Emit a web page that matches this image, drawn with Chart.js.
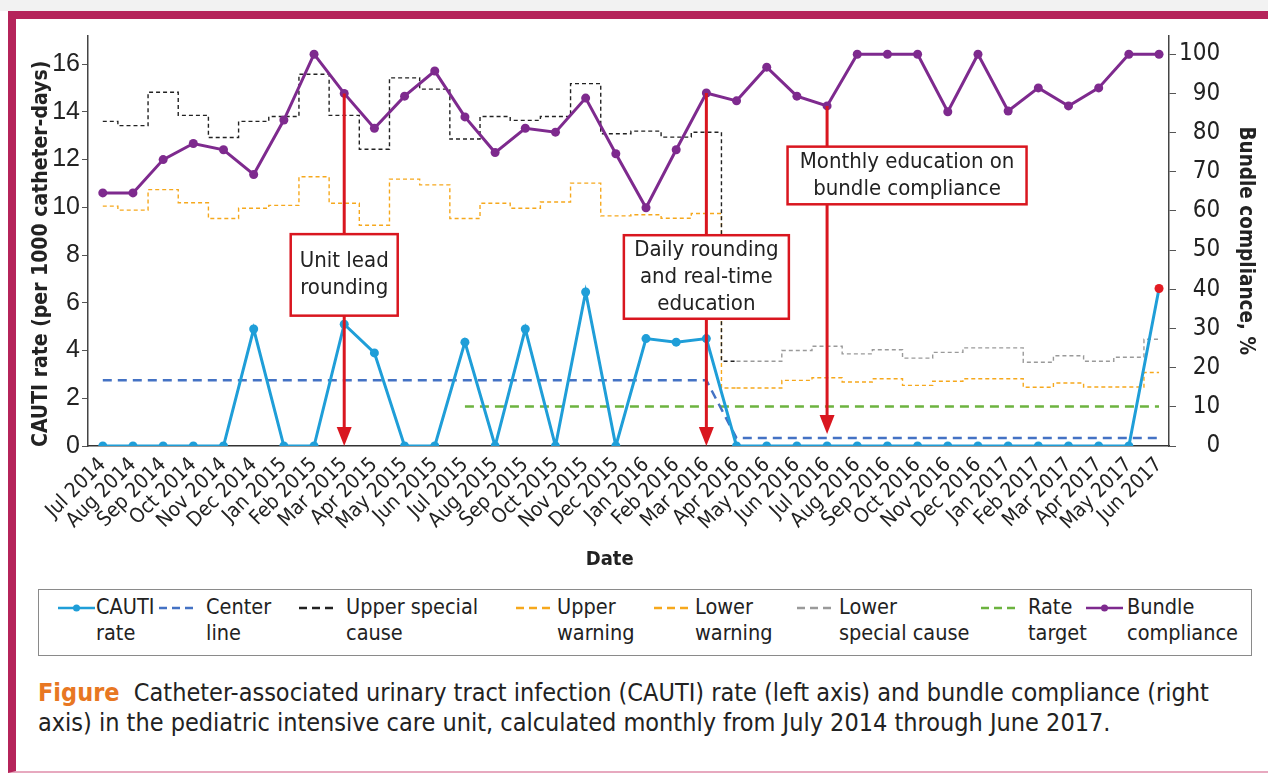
<!DOCTYPE html>
<html>
<head>
<meta charset="utf-8">
<script src="https://cdn.jsdelivr.net/npm/chart.js@4.4.1/dist/chart.umd.min.js"></script>
<style>
  body { margin: 0; width: 1268px; height: 773px; overflow: hidden; background: #fff;
         font-family: "DejaVu Sans Condensed", "Liberation Sans", sans-serif; color: #222; }
  #shade { position: absolute; left: 0; top: 0; width: 1268px; height: 11px; background: #f2f2f2; }
  #frame { position: absolute; left: 8px; top: 11px; width: 1260px; height: 762px; box-sizing: border-box;
           border-top: 8px solid #b5245a; border-left: 8px solid #b5245a; border-bottom: 2px solid #e7a9bf; }
  #wrap { position: absolute; left: 16px; top: 18px; width: 1252px; height: 557px; }
  #legend { position: absolute; left: 38px; top: 589px; width: 1214px; height: 67px; box-sizing: border-box;
            border: 1px solid #8a8a8a; }
  .lab { position: absolute; top: 4px; font-size: 21.5px; line-height: 26px; white-space: nowrap; }
  .sw { position: absolute; top: 9px; }
  #caption { position: absolute; left: 38px; top: 678px; font-size: 25px; line-height: 30px; white-space: nowrap; }
  #caption b { color: #e87722; }
</style>
</head>
<body>
<div id="shade"></div>
<div id="frame"></div>
<div id="wrap"><canvas id="grafico" width="1252" height="557"></canvas></div>
<div id="legend"></div>
<div id="caption"><b>Figure</b>&nbsp; Catheter-associated urinary tract infection (CAUTI) rate (left axis) and bundle compliance (right<br>axis) in the pediatric intensive care unit, calculated monthly from July 2014 through June 2017.</div>
<script>
const months = ["Jul 2014", "Aug 2014", "Sep 2014", "Oct 2014", "Nov 2014", "Dec 2014",
    "Jan 2015", "Feb 2015", "Mar 2015", "Apr 2015", "May 2015", "Jun 2015",
    "Jul 2015", "Aug 2015", "Sep 2015", "Oct 2015", "Nov 2015", "Dec 2015",
    "Jan 2016", "Feb 2016", "Mar 2016", "Apr 2016", "May 2016", "Jun 2016",
    "Jul 2016", "Aug 2016", "Sep 2016", "Oct 2016", "Nov 2016", "Dec 2016",
    "Jan 2017", "Feb 2017", "Mar 2017", "Apr 2017", "May 2017", "Jun 2017"];

// CAUTI rate, per 1000 catheter-days (left axis)
const cautiRate = [0, 0, 0, 0, 0, 4.9, 0, 0, 5.1, 3.9, 0, 0, 4.35, 0, 4.9, 0, 6.45, 0,
    4.5, 4.35, 4.5, 0, 0, 0, 0, 0, 0, 0, 0, 0, 0, 0, 0, 0, 0, 6.6];
const centerLine = [2.75, 2.75, 2.75, 2.75, 2.75, 2.75, 2.75, 2.75, 2.75, 2.75, 2.75, 2.75,
    2.75, 2.75, 2.75, 2.75, 2.75, 2.75, 2.75, 2.75, 2.75,
    0.33, 0.33, 0.33, 0.33, 0.33, 0.33, 0.33, 0.33, 0.33, 0.33, 0.33, 0.33, 0.33, 0.33, 0.33];
const rateTarget = [null, null, null, null, null, null, null, null, null, null, null, null,
    1.65, 1.65, 1.65, 1.65, 1.65, 1.65, 1.65, 1.65, 1.65, 1.65, 1.65, 1.65,
    1.65, 1.65, 1.65, 1.65, 1.65, 1.65, 1.65, 1.65, 1.65, 1.65, 1.65, 1.65];
// fase 1 (Jul 2014 - Mar 2016)
const upperSpecial = [13.6, 13.42, 14.82, 13.85, 12.92, 13.6, 13.8, 15.57, 13.85, 12.43, 15.42,
    14.95, 12.86, 13.8, 13.64, 13.8, 15.18, 13.08, 13.19, 12.94, 13.14];
const upperWarning = [10.05, 9.88, 10.74, 10.19, 9.53, 9.96, 10.08, 11.28, 10.17, 9.25, 11.18,
    10.94, 9.53, 10.17, 9.96, 10.22, 11.01, 9.64, 9.69, 9.54, 9.74];
// fase 2 (Apr 2016 - Jun 2017)
const lowerWarning = [2.43, 2.43, 2.75, 2.86, 2.68, 2.82, 2.54, 2.71, 2.82, 2.82, 2.46, 2.64, 2.47, 2.47, 3.08];
const lowerSpecial = [3.55, 3.55, 4.0, 4.18, 3.86, 4.03, 3.68, 3.92, 4.11, 4.11, 3.51, 3.78, 3.55, 3.72, 4.47];
// Bundle compliance, % (right axis)
const bundle = [64.6, 64.6, 73.1, 77.2, 75.6, 69.3, 83.2, 100, 90, 81.1, 89.3, 95.7,
    84.0, 74.9, 81.1, 80.1, 88.8, 74.6, 60.8, 75.6, 90.1, 88.1, 96.7, 89.3,
    86.8, 100, 100, 100, 85.3, 100, 85.5, 91.4, 86.8, 91.4, 100, 100];

const leftTicks = [0, 2, 4, 6, 8, 10, 12, 14, 16];
const rightTicks = [0, 10, 20, 30, 40, 50, 60, 70, 80, 90, 100];

const fase2 = 21;
const pts = (arr, start = 0) => arr.map((v, i) => ({ x: i + start, y: v }));

const fonte = '"DejaVu Sans Condensed", "Liberation Sans", sans-serif';
Chart.defaults.font.family = fonte;
Chart.defaults.color = "#222";

const cor = {
    cauti: "#1f9ed8", center: "#4472c4", upperSpecial: "#222222", warning: "#f6a81c",
    lowerSpecial: "#9a9a9a", target: "#6cb33f", bundle: "#7e2a8e", red: "#d9161f"
};

const datasets = [
    { label: "CAUTI rate", legend: ["CAUTI", "rate"], data: pts(cautiRate), yAxisID: "y",
      borderColor: cor.cauti, backgroundColor: cor.cauti, borderWidth: 3, pointRadius: 4.5,
      pointBackgroundColor: cautiRate.map((v, i) => i === cautiRate.length - 1 ? "#e31b23" : cor.cauti),
      pointBorderWidth: 0, order: 0 },
    { label: "Bundle compliance", legend: ["Bundle", "compliance"], data: pts(bundle), yAxisID: "y1",
      borderColor: cor.bundle, backgroundColor: cor.bundle, borderWidth: 3, pointRadius: 4.5,
      pointBorderWidth: 0, order: 1 },
    { label: "Center line", legend: ["Center", "line"], data: pts(centerLine), yAxisID: "y",
      borderColor: cor.center, borderWidth: 2.5, borderDash: [9, 6], pointRadius: 0, order: 2 },
    { label: "Rate target", legend: ["Rate", "target"], data: pts(rateTarget), yAxisID: "y",
      borderColor: cor.target, borderWidth: 2.5, borderDash: [9, 6], pointRadius: 0, order: 3 },
    { label: "Upper special cause", legend: ["Upper special", "cause"],
      data: pts(upperSpecial.concat([lowerSpecial[0]])), yAxisID: "y",
      borderColor: cor.upperSpecial, borderWidth: 1.4, borderDash: [4, 3], stepped: "middle",
      pointRadius: 0, order: 4 },
    { label: "Upper warning", legend: ["Upper", "warning"],
      data: pts(upperWarning.concat([lowerWarning[0]])), yAxisID: "y",
      borderColor: cor.warning, borderWidth: 1.4, borderDash: [4, 3], stepped: "middle",
      pointRadius: 0, order: 4 },
    { label: "Lower warning", legend: ["Lower", "warning"], data: pts(lowerWarning, fase2), yAxisID: "y",
      borderColor: cor.warning, borderWidth: 1.4, borderDash: [4, 3], stepped: "middle",
      pointRadius: 0, order: 4 },
    { label: "Lower special cause", legend: ["Lower", "special cause"], data: pts(lowerSpecial, fase2), yAxisID: "y",
      borderColor: cor.lowerSpecial, borderWidth: 1.4, borderDash: [4, 3], stepped: "middle",
      pointRadius: 0, order: 4 }
];

// caixas de intervenção (posição em mês / valor do eixo esquerdo)
const callouts = [
    { month: 8, boxAt: 8, lines: ["Unit lead", "rounding"], top: 8.875, bottom: 5.46, width: 107, tip: 0 },
    { month: 20, boxAt: 20, lines: ["Daily rounding", "and real-time", "education"], top: 8.83, bottom: 5.33, width: 165, tip: 0 },
    { month: 24, boxAt: 26.65, lines: ["Monthly education on", "bundle compliance"], top: 12.54, bottom: 10.125, width: 239, tip: 0.5 }
];

const calloutPlugin = {
    id: "callouts",
    afterDatasetsDraw(chart) {
        const { ctx, scales: { x, y, y1 } } = chart;
        ctx.save();
        callouts.forEach(c => {
            const px = x.getPixelForValue(c.month);
            const bx = x.getPixelForValue(c.boxAt);
            const top = y.getPixelForValue(c.top);
            const bottom = y.getPixelForValue(c.bottom);
            const tip = y.getPixelForValue(c.tip);
            const start = y1.getPixelForValue(bundle[c.month]);
            ctx.strokeStyle = cor.red;
            ctx.fillStyle = cor.red;
            ctx.lineWidth = 3;
            ctx.setLineDash([]);
            ctx.beginPath();
            ctx.moveTo(px, start);
            ctx.lineTo(px, top);
            ctx.moveTo(px, bottom);
            ctx.lineTo(px, tip - 16);
            ctx.stroke();
            ctx.beginPath();
            ctx.moveTo(px - 7.5, tip - 19);
            ctx.lineTo(px + 7.5, tip - 19);
            ctx.lineTo(px, tip);
            ctx.closePath();
            ctx.fill();
            ctx.fillStyle = "#fff";
            ctx.fillRect(bx - c.width / 2, top, c.width, bottom - top);
            ctx.lineWidth = 2.5;
            ctx.strokeRect(bx - c.width / 2, top, c.width, bottom - top);
            ctx.fillStyle = "#222";
            ctx.font = "22px " + fonte;
            ctx.textAlign = "center";
            ctx.textBaseline = "middle";
            const lh = 27;
            const mid = (top + bottom) / 2;
            c.lines.forEach((t, i) => {
                ctx.fillText(t, bx, mid + (i - (c.lines.length - 1) / 2) * lh);
            });
        });
        ctx.restore();
    }
};

new Chart(document.getElementById("grafico").getContext("2d"), {
    type: "line",
    data: { datasets },
    options: {
        responsive: false,
        animation: false,
        layout: { padding: { top: 15, left: 0, right: 0, bottom: 0 } },
        plugins: { legend: { display: false }, tooltip: { enabled: false } },
        scales: {
            x: {
                type: "linear", min: -0.49, max: 35.33,
                grid: { display: false, drawTicks: false },
                border: { color: "#333", width: 1.5 },
                afterBuildTicks: s => { s.ticks = months.map((m, i) => ({ value: i })); },
                ticks: { autoSkip: false, minRotation: 45, maxRotation: 45, padding: 7,
                         font: { size: 20.5 }, callback: v => months[v] },
                title: { display: true, text: "Date\u2007\u2007\u2007", font: { size: 20, weight: "bold" },
                         padding: { top: 0, bottom: 3 } },
                afterFit: s => { s.height = 129; }
            },
            y: {
                position: "left", min: 0, max: 17.2,
                grid: { drawOnChartArea: false, tickLength: 6, color: "#555", lineWidth: 1 },
                border: { color: "#444", width: 1.5 },
                afterBuildTicks: s => { s.ticks = leftTicks.map(v => ({ value: v })); },
                ticks: { padding: 2, font: { size: 25, family: '"Liberation Sans", Arial, sans-serif' } },
                title: { display: true, text: "CAUTI rate (per 1000 catheter-days)\u2007\u2007",
                         font: { size: 21, weight: "bold" }, padding: { top: 13, bottom: 0 } },
                afterFit: s => { s.width = 72; }
            },
            y1: {
                position: "right", min: 0, max: 104.8,
                grid: { drawOnChartArea: false, tickLength: 7, color: "#555", lineWidth: 1 },
                border: { color: "#444", width: 1.5 },
                afterBuildTicks: s => { s.ticks = rightTicks.map(v => ({ value: v })); },
                ticks: { padding: 3, font: { size: 24 },
                         callback: v => String(v).padStart(3, "\u2007") },
                title: { display: true, text: "Bundle compliance, %",
                         font: { size: 20.5, weight: "bold" }, padding: { top: 10, bottom: 0 } },
                afterFit: s => { s.width = 99; }
            }
        }
    },
    plugins: [calloutPlugin]
});

// legenda em HTML (rótulos em duas linhas)
const legendPos = [[57, 95], [158, 205], [298, 345], [515, 556], [653, 694], [796, 838], [980, 1027], [1085, 1126]];
const legendOrder = ["CAUTI rate", "Center line", "Upper special cause", "Upper warning",
    "Lower warning", "Lower special cause", "Rate target", "Bundle compliance"];
const legendDiv = document.getElementById("legend");
legendOrder.forEach((name, i) => {
    const ds = datasets.find(d => d.label === name);
    const [sx, tx] = legendPos[i];
    const w = 37;
    const dashed = !!ds.borderDash;
    const dot = ds.pointRadius ? `<circle cx="${w / 2}" cy="6" r="3.5" fill="${ds.borderColor}"/>` : "";
    const sw = document.createElement("div");
    sw.className = "sw";
    sw.style.left = (sx - 38) + "px";
    sw.innerHTML = `<svg width="${w}" height="12"><line x1="0" y1="6" x2="${w}" y2="6" stroke="${ds.borderColor}"
        stroke-width="2.5" ${dashed ? 'stroke-dasharray="8 5"' : ""}/>${dot}</svg>`;
    legendDiv.appendChild(sw);
    const lab = document.createElement("div");
    lab.className = "lab";
    lab.style.left = (tx - 38) + "px";
    lab.innerHTML = ds.legend.join("<br>");
    legendDiv.appendChild(lab);
});
</script>
</body>
</html>
